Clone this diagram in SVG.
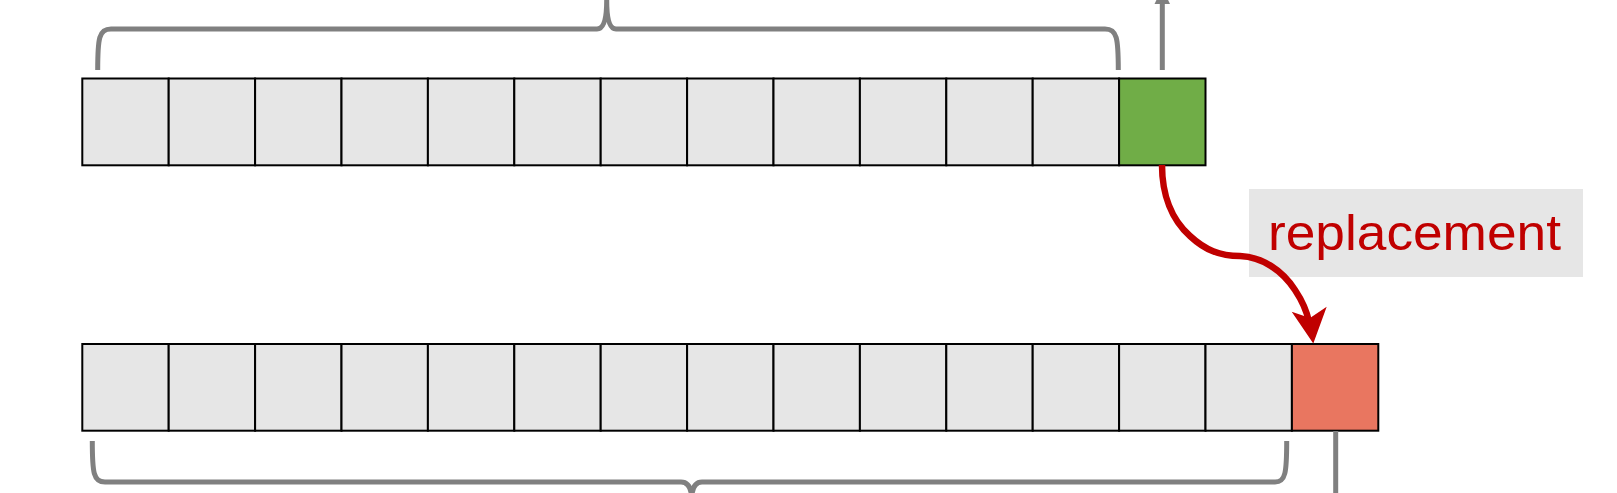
<svg xmlns="http://www.w3.org/2000/svg" width="1617" height="493" viewBox="0 0 1617 493">
<defs>
<style>
.cell{fill:#e6e6e6;stroke:#000;stroke-width:2}
.brace{fill:none;stroke:#808080;stroke-width:5;stroke-linecap:butt}
.lbl{font-family:"Liberation Sans",Arial,sans-serif;font-size:50px;fill:#c00000}
</style>
<marker id="grayArrow" markerWidth="6" markerHeight="6" refX="3" refY="3" orient="auto" markerUnits="strokeWidth">
<path d="M0,0 L6,3 L0,6 z" fill="#808080"/>
</marker>
</defs>
<rect width="1617" height="493" fill="#fff"/>
<g id="top-row">
<rect class="cell" x="82.3" y="78.5" width="86.4" height="86.8"/>
<rect class="cell" x="168.7" y="78.5" width="86.4" height="86.8"/>
<rect class="cell" x="255.1" y="78.5" width="86.4" height="86.8"/>
<rect class="cell" x="341.5" y="78.5" width="86.4" height="86.8"/>
<rect class="cell" x="427.9" y="78.5" width="86.4" height="86.8"/>
<rect class="cell" x="514.3" y="78.5" width="86.4" height="86.8"/>
<rect class="cell" x="600.7" y="78.5" width="86.4" height="86.8"/>
<rect class="cell" x="687.1" y="78.5" width="86.4" height="86.8"/>
<rect class="cell" x="773.5" y="78.5" width="86.4" height="86.8"/>
<rect class="cell" x="859.9" y="78.5" width="86.4" height="86.8"/>
<rect class="cell" x="946.3" y="78.5" width="86.4" height="86.8"/>
<rect class="cell" x="1032.7" y="78.5" width="86.4" height="86.8"/>
</g>
<g id="green-cell">
<rect x="1119.1" y="78.5" width="86.4" height="86.8" fill="#70ad47" stroke="#000" stroke-width="2"/>
</g>
<g id="bottom-row">
<rect class="cell" x="82.3" y="344" width="86.4" height="86.7"/>
<rect class="cell" x="168.7" y="344" width="86.4" height="86.7"/>
<rect class="cell" x="255.1" y="344" width="86.4" height="86.7"/>
<rect class="cell" x="341.5" y="344" width="86.4" height="86.7"/>
<rect class="cell" x="427.9" y="344" width="86.4" height="86.7"/>
<rect class="cell" x="514.3" y="344" width="86.4" height="86.7"/>
<rect class="cell" x="600.7" y="344" width="86.4" height="86.7"/>
<rect class="cell" x="687.1" y="344" width="86.4" height="86.7"/>
<rect class="cell" x="773.5" y="344" width="86.4" height="86.7"/>
<rect class="cell" x="859.9" y="344" width="86.4" height="86.7"/>
<rect class="cell" x="946.3" y="344" width="86.4" height="86.7"/>
<rect class="cell" x="1032.7" y="344" width="86.4" height="86.7"/>
<rect class="cell" x="1119.1" y="344" width="86.4" height="86.7"/>
<rect class="cell" x="1205.5" y="344" width="86.4" height="86.7"/>
</g>
<g id="red-cell">
<rect x="1291.9" y="344" width="86.4" height="86.7" fill="#e97660" stroke="#000" stroke-width="2"/>
</g>
<g id="top-brace">
<path class="brace" d="M97.7,70 C97.7,38 99,29 111,29 L597,29 Q606.7,29 606.7,0 Q606.7,29 616,29 L1105,29 C1117,29 1118.3,38 1118.3,70"/>
</g>
<g id="bottom-brace">
<path class="brace" d="M92.3,441 C92.3,473 93.5,482 105,482 L681,482 Q691.7,482 691.7,500 Q691.7,482 702,482 L1275,482 C1285.5,482 1286.7,473 1286.7,441"/>
</g>
<g id="label">
<rect x="1249" y="189" width="334" height="88" fill="#e6e6e6"/>
<text class="lbl" x="1268" y="250" textLength="293" lengthAdjust="spacingAndGlyphs">replacement</text>
</g>
<g id="connectors">
<line x1="1162.3" y1="70" x2="1162.3" y2="4" stroke="#808080" stroke-width="5"/>
<path d="M1154.5,4 L1162.3,-12 L1170,4 z" fill="#808080"/>
<line x1="1335.7" y1="431" x2="1335.7" y2="493" stroke="#808080" stroke-width="5"/>
<path d="M1162,165 C1162,195 1172,220 1190,236 C1205,250 1220,256 1240,256 C1262,257 1282,270 1295,290 C1303,302 1307,312 1309,322" fill="none" stroke="#c00000" stroke-width="6.5"/>
<path d="M1291.7,311.7 L1313.3,343.5 L1326.7,306.7 L1310,318 z" fill="#c00000"/>
</g>
</svg>
